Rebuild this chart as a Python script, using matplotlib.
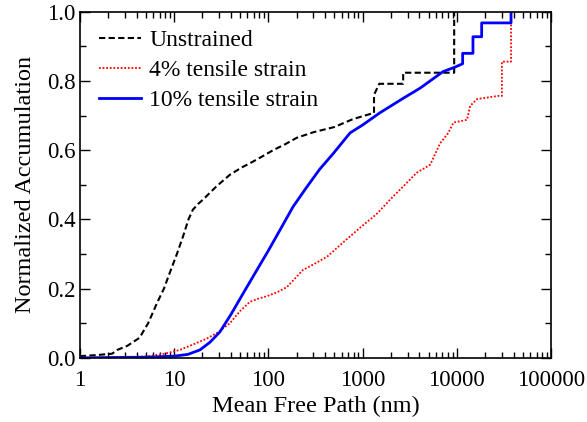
import numpy as np
import matplotlib.pyplot as plt

plt.rcParams['font.family'] = ['Liberation Serif', 'DejaVu Serif']

# Data
x_un = [1, 1.5, 2.2, 2.5, 3.2, 4.3, 5.3, 6.6, 7.8, 9.0, 10.7, 12.4, 14.2, 15.8, 18, 20.2, 28, 39, 52, 68.5, 90, 112, 150, 200, 300, 500, 790,
        1320, 1320, 1500, 2690, 2690, 9350, 9350]
y_un = [0.005, 0.008, 0.012, 0.023, 0.035, 0.058, 0.1, 0.159, 0.2, 0.246, 0.3, 0.35, 0.4, 0.428, 0.445, 0.457, 0.495, 0.529, 0.55, 0.567, 0.585, 0.60, 0.617, 0.636, 0.652, 0.667, 0.69,
        0.708, 0.76, 0.792, 0.792, 0.824, 0.824, 1.0]

x_4 = [1, 3, 5.1, 8, 11.5, 17, 22, 28.5, 39, 50, 63.7, 80, 96, 125, 158, 233, 300, 418, 600, 937, 1400, 1950, 2800, 3750, 5200,
       6630, 8100, 9200, 12800, 13800, 16400, 27500, 30000, 30000, 37500, 37500]
y_4 = [0.0, 0.001, 0.004, 0.012, 0.023, 0.042, 0.055, 0.072, 0.10, 0.135, 0.162, 0.172, 0.178, 0.19, 0.205, 0.254, 0.27, 0.292, 0.33, 0.376, 0.415, 0.457, 0.5, 0.535, 0.558,
       0.62, 0.65, 0.68, 0.688, 0.728, 0.748, 0.757, 0.757, 0.856, 0.856, 1.0]

x_10 = [1, 5, 10, 14, 18.8, 24, 30.6, 40, 55, 75.6, 100, 130, 182, 250, 350, 486, 735, 1000, 1520, 2690, 4100, 7100, 9500,
        11500, 11500, 14800, 14800, 18300, 18300, 37500, 37500]
y_10 = [0.0, 0.002, 0.005, 0.01, 0.023, 0.045, 0.075, 0.125, 0.19, 0.254, 0.31, 0.365, 0.436, 0.49, 0.545, 0.59, 0.65, 0.673, 0.708, 0.75, 0.78, 0.827, 0.84,
        0.85, 0.88, 0.88, 0.928, 0.928, 0.968, 0.968, 1.0]

fig = plt.figure(figsize=(5.87, 4.22), dpi=100)
ax = fig.add_axes([0.136, 0.152, 0.803, 0.82])

ax.plot(x_un, y_un, color='black', linestyle=(0, (3, 1.6)), linewidth=1.5, label='Unstrained')
ax.plot(x_4, y_4, color='red', linestyle=(0, (1, 1)), linewidth=1.3, label='4% tensile strain')
ax.plot(x_10, y_10, color='blue', linestyle='-', linewidth=2, label='10% tensile strain')

ax.set_xscale('log')
ax.set_xlim(1, 100000)
ax.set_ylim(0, 1.0)
ax.set_xticks([1, 10, 100, 1000, 10000, 100000])
ax.set_xticklabels(['1', '10', '100', '1000', '10000', '100000'])
ax.set_yticks(np.arange(0, 1.01, 0.2))
ax.set_yticklabels(['%.1f' % v for v in np.arange(0, 1.01, 0.2)])
ax.set_yticks(np.arange(0.1, 1.0, 0.2), minor=True)
ax.tick_params(which='both', direction='in', top=True, right=True, labelsize=16.5)
ax.tick_params(which='major', length=7, width=1)
ax.tick_params(axis='x', which='major', pad=9)
ax.tick_params(axis='y', which='major', pad=3)
ax.tick_params(which='minor', length=4, width=1)
for s in ax.spines.values():
    s.set_linewidth(1.2)

ax.set_xlabel('Mean Free Path (nm)', fontsize=17.5, labelpad=3)
ax.set_ylabel('Normalized Accumulation', fontsize=17.5, labelpad=8)

ax.legend(loc='upper left', bbox_to_anchor=(0.02, 0.975), frameon=False, fontsize=17,
          handlelength=1.8, handletextpad=0.35, labelspacing=0.35, borderaxespad=0)

fig.savefig('out.png', dpi=100)
